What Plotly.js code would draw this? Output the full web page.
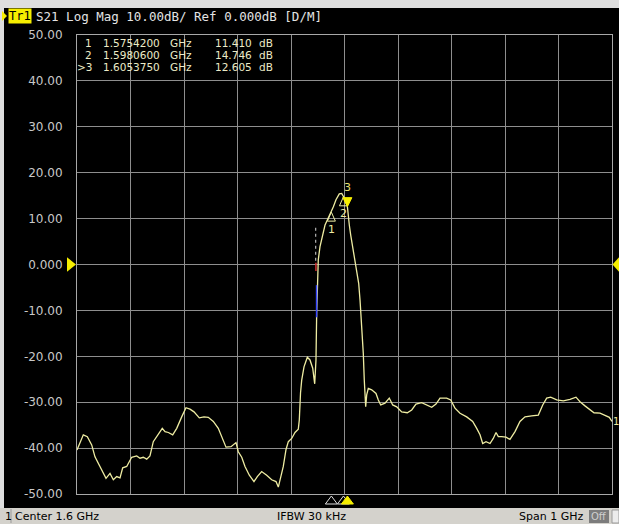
<!DOCTYPE html>
<html><head><meta charset="utf-8">
<script src="https://cdn.plot.ly/plotly-3.0.1.min.js"></script>
<style>html,body{margin:0;padding:0;background:#dedede;overflow:hidden}</style>
</head><body><div id="chart" style="width:619px;height:524px"></div>
<script>
// ---- data (frequency in GHz, S21 in dB) ----
const freqGHz = [1.1000,1.1024,1.1118,1.1193,1.1275,1.1336,1.1430,1.1542,1.1617,1.1679,1.1742,1.1804,1.1854,1.1929,1.2022,1.2116,1.2178,1.2239,1.2303,1.2364,1.2426,1.2520,1.2594,1.2645,1.2707,1.2789,1.2864,1.2957,1.3037,1.3112,1.3187,1.3286,1.3374,1.3454,1.3548,1.3641,1.3723,1.3785,1.3879,1.3972,1.4015,1.4079,1.4140,1.4221,1.4308,1.4370,1.4452,1.4546,1.4639,1.4720,1.4763,1.4807,1.4856,1.4907,1.4950,1.5013,1.5075,1.5136,1.5155,1.5178,1.5200,1.5243,1.5305,1.5355,1.5406,1.5443,1.5467,1.5480,1.5491,1.5510,1.5542,1.5592,1.5636,1.5679,1.5754,1.5792,1.5841,1.5903,1.5948,1.5981,1.6015,1.6054,1.6071,1.6090,1.6116,1.6153,1.6196,1.6228,1.6265,1.6290,1.6321,1.6351,1.6370,1.6396,1.6415,1.6445,1.6508,1.6589,1.6632,1.6677,1.6757,1.6837,1.6901,1.6976,1.7069,1.7174,1.7256,1.7336,1.7443,1.7536,1.7630,1.7710,1.7785,1.7910,1.7985,1.8065,1.8159,1.8284,1.8396,1.8471,1.8533,1.8583,1.8645,1.8720,1.8781,1.8832,1.8875,1.8938,1.9019,1.9093,1.9187,1.9280,1.9374,1.9499,1.9623,1.9705,1.9779,1.9854,1.9967,2.0090,2.0215,2.0327,2.0402,2.0495,2.0589,2.0664,2.0776,2.0869,2.0950,2.1000];
const s21dB = [-40.4,-39.7,-37.1,-37.5,-39.3,-41.9,-44.0,-46.6,-45.5,-46.9,-46.2,-46.5,-44.3,-44.0,-42.0,-41.7,-42.2,-42.0,-42.4,-41.7,-38.6,-37.1,-35.7,-36.4,-36.6,-37.1,-35.7,-33.2,-31.2,-31.5,-32.1,-33.4,-33.2,-33.3,-34.2,-35.7,-38.2,-39.8,-39.7,-38.8,-40.8,-42.0,-44.0,-45.9,-47.3,-46.2,-45.1,-45.9,-46.9,-47.3,-48.5,-46.2,-44.0,-40.3,-38.6,-37.9,-36.6,-35.9,-33.9,-28.0,-25.2,-22.3,-20.2,-20.8,-22.6,-26.0,-20.8,-10.6,-4.1,1.0,3.9,6.1,8.6,9.7,11.4,12.6,14.1,15.4,15.5,14.75,14.1,12.6,10.4,8.6,6.4,3.9,1.4,-1.2,-4.1,-7.7,-12.8,-19.3,-25.2,-31.0,-28.4,-27.0,-27.3,-28.1,-29.5,-30.6,-30.2,-29.1,-30.6,-31.0,-32.1,-32.3,-31.7,-30.4,-30.1,-30.6,-31.1,-30.4,-29.1,-29.1,-29.5,-31.3,-32.4,-33.2,-34.2,-35.7,-37.1,-39.0,-38.6,-39.0,-37.9,-36.6,-37.5,-37.5,-37.6,-38.1,-36.4,-34.2,-33.2,-33.0,-32.8,-30.6,-29.1,-28.9,-29.5,-29.7,-29.4,-28.9,-29.9,-30.8,-31.7,-32.3,-32.4,-32.8,-33.3,-34.2];
// screen artefacts near the rising edge
const dottedFreqGHz = [1.5462,1.5462];
const dottedDB = [8.0,0.5];
const blueFreqGHz = [1.5478,1.5478];
const blueDB = [-4.5,-11.5];
const redFreqGHz = [1.5466,1.5466];
const redDB = [0.4,-1.4];
// markers
const markerLabels = ['1','2','3'];
const markerFreqGHz = [1.5754200,1.5980600,1.6053750];
const markerDB = [11.410,14.746,12.605];
const activeMarker = '3';
// ticks and texts
const yTickVals = [50,40,30,20,10,0,-10,-20,-30,-40,-50];
const yTickText = ['50.00','40.00','30.00','20.00','10.00','0.000','-10.00','-20.00','-30.00','-40.00','-50.00'];
const traceName = 'Tr1';
const headerText = 'S21 Log Mag 10.00dB/ Ref 0.000dB [D/M]';
const channelText = '1';
const statusLeft = 'Center 1.6 GHz';
const statusMid = 'IFBW 30 kHz';
const statusRight = 'Span 1 GHz';
const statusOff = 'Off';
const xRange = [1.1,2.1];
const yRange = [-50,50];

// ---- layout helpers (pixel -> paper) ----
const W=619,H=524,ML=77,MR=7,MT=35,MB=30;
const PW=W-ML-MR, PH=H-MT-MB;
const px=p=>(p-ML)/PW;
const py=p=>(H-MB-p)/PH;

const TRACE='#eeeca2', YEL='#f6ee00', GRID='#8e8e8e', TXT='#c8c8c8', MK='#ecebc8';

const traces=[
 {x:freqGHz,y:s21dB,type:'scatter',mode:'lines',line:{color:TRACE,width:1.3},hoverinfo:'skip'},
 {x:dottedFreqGHz,y:dottedDB,type:'scatter',mode:'lines',line:{color:'#d8d8d8',width:1,dash:'dot'},hoverinfo:'skip'},
 {x:redFreqGHz,y:redDB,type:'scatter',mode:'lines',line:{color:'#d03030',width:1.5},hoverinfo:'skip'},
 {x:blueFreqGHz,y:blueDB,type:'scatter',mode:'lines',line:{color:'#3848ff',width:1.5},hoverinfo:'skip'}
];

const shapes=[
 {type:'rect',xref:'paper',yref:'paper',x0:px(4),x1:px(619),y0:py(508),y1:py(8),fillcolor:'#000',line:{width:0},layer:'below'},
 {type:'rect',xref:'paper',yref:'paper',x0:px(0),x1:px(619),y0:py(524),y1:py(508),fillcolor:'#d4d2cc',line:{width:0},layer:'below'},
 {type:'line',xref:'paper',yref:'paper',x0:px(11),x1:px(11),y0:py(523),y1:py(509),line:{color:'#9a9a9a',width:1}},
 {type:'rect',xref:'paper',yref:'paper',x0:px(589),x1:px(609),y0:py(523),y1:py(510),fillcolor:'#7c7c7c',line:{width:0}},
 {type:'rect',xref:'paper',yref:'paper',x0:px(612),x1:px(619),y0:py(523),y1:py(510),fillcolor:'#ececec',line:{color:'#9a9a9a',width:1}},
 {type:'path',xref:'paper',yref:'paper',path:`M${px(2)},${py(11)} L${px(7)},${py(16)} L${px(2)},${py(21)} Z`,fillcolor:YEL,line:{width:0}},
 {type:'path',xref:'paper',yref:'y',path:`M${px(67)},1.6 L${px(76)},0 L${px(67)},-1.6 Z`,fillcolor:YEL,line:{width:0}},
 {type:'path',xref:'paper',yref:'y',path:`M${px(612.5)},0 L${px(619)},1.6 L${px(619)},-1.6 Z`,fillcolor:YEL,line:{width:0}}
];

const annotations=[
 {xref:'paper',yref:'paper',x:px(8),y:py(16),xanchor:'left',yanchor:'middle',text:traceName,showarrow:false,
  bgcolor:YEL,borderpad:0,font:{family:'DejaVu Sans Mono',size:12,color:'#000'}},
 {xref:'paper',yref:'paper',x:px(34),y:py(16),xanchor:'left',yanchor:'middle',text:headerText,showarrow:false,
  font:{family:'DejaVu Sans Mono',size:12.5,color:'#e4e4e4'}},
 {xref:'paper',yref:'y',x:px(612),y:s21dB[s21dB.length-1],xanchor:'left',yanchor:'middle',text:channelText,showarrow:false,
  borderpad:0,font:{family:'DejaVu Sans',size:10,color:TRACE}},
 {xref:'paper',yref:'paper',x:px(4),y:py(516.5),xanchor:'left',yanchor:'middle',text:channelText,showarrow:false,borderpad:0,font:{family:'DejaVu Sans',size:11,color:'#000'}},
 {xref:'paper',yref:'paper',x:px(14),y:py(516.5),xanchor:'left',yanchor:'middle',text:statusLeft,showarrow:false,borderpad:0,font:{family:'DejaVu Sans',size:11,color:'#000'}},
 {xref:'paper',yref:'paper',x:px(311),y:py(516.5),xanchor:'center',yanchor:'middle',text:statusMid,showarrow:false,borderpad:0,font:{family:'DejaVu Sans',size:11,color:'#000'}},
 {xref:'paper',yref:'paper',x:px(584),y:py(516.5),xanchor:'right',yanchor:'middle',text:statusRight,showarrow:false,borderpad:0,font:{family:'DejaVu Sans',size:11,color:'#000'}},
 {xref:'paper',yref:'paper',x:px(599),y:py(516.5),xanchor:'center',yanchor:'middle',text:statusOff,showarrow:false,borderpad:0,font:{family:'DejaVu Sans',size:10,color:'#cfcfcf'}}
];

// marker table
const rowY=[43,55,67];
markerLabels.forEach((m,i)=>{
  const isAct=m===activeMarker;
  const f={family:'DejaVu Sans',size:10.5,color:MK};
  const yy=py(rowY[i]);
  const base={xref:'paper',yref:'paper',y:yy,yanchor:'middle',showarrow:false,borderpad:0,font:f};
  annotations.push(Object.assign({},base,{x:px(93),xanchor:'right',text:(isAct?'&gt;':'')+m}));
  annotations.push(Object.assign({},base,{x:px(102),xanchor:'left',text:markerFreqGHz[i].toFixed(7)}));
  annotations.push(Object.assign({},base,{x:px(169),xanchor:'left',text:'GHz'}));
  annotations.push(Object.assign({},base,{x:px(253),xanchor:'right',text:markerDB[i].toFixed(3)}));
  annotations.push(Object.assign({},base,{x:px(258),xanchor:'left',text:'dB'}));
});

// markers on trace + stimulus indicators
markerLabels.forEach((m,i)=>{
  const isAct=m===activeMarker;
  shapes.push({type:'path',xref:'x',yref:'y',xsizemode:'pixel',ysizemode:'pixel',xanchor:markerFreqGHz[i],yanchor:markerDB[i],
    path:isAct?'M0,0 L-4.5,9 L4.5,9 Z':'M0,0 L-4,-9 L4,-9 Z',
    fillcolor:isAct?YEL:'rgba(0,0,0,0)',line:{color:isAct?YEL:TRACE,width:1}});
  annotations.push({xref:'x',yref:'y',x:markerFreqGHz[i],y:markerDB[i],yshift:isAct?19:-17,text:m,showarrow:false,borderpad:0,
    xanchor:'center',yanchor:'middle',font:{family:'DejaVu Sans',size:11,color:isAct?'#e8e070':TRACE}});
});
markerLabels.forEach((m,i)=>{
  const isAct=m===activeMarker;
  shapes.push({type:'path',xref:'x',yref:'paper',xsizemode:'pixel',ysizemode:'pixel',xanchor:markerFreqGHz[i],yanchor:0,
    path:'M0,-2 L-6,-10 L6,-10 Z',fillcolor:isAct?YEL:'#000',line:{color:isAct?YEL:'#e0e0e0',width:1}});
});

const layout={
  width:W,height:H,margin:{l:ML,r:MR,t:MT,b:MB,pad:0},
  paper_bgcolor:'#dedede',plot_bgcolor:'#000',showlegend:false,
  xaxis:{range:xRange,tick0:1.1,dtick:0.1,showgrid:true,gridcolor:GRID,gridwidth:1,zeroline:false,
    showticklabels:false,ticks:'',showline:true,linecolor:'#a8a8a8',linewidth:1,mirror:true,fixedrange:true},
  yaxis:{range:yRange,tickvals:yTickVals,ticktext:yTickText,showgrid:true,gridcolor:GRID,gridwidth:1,zeroline:false,
    ticks:'',ticklabelstandoff:11,tickfont:{family:'DejaVu Sans',size:12,color:TXT},
    showline:true,linecolor:'#a8a8a8',linewidth:1,mirror:true,fixedrange:true},
  shapes:shapes,annotations:annotations
};
Plotly.newPlot('chart',traces,layout,{staticPlot:true,displayModeBar:false});
</script></body></html>
